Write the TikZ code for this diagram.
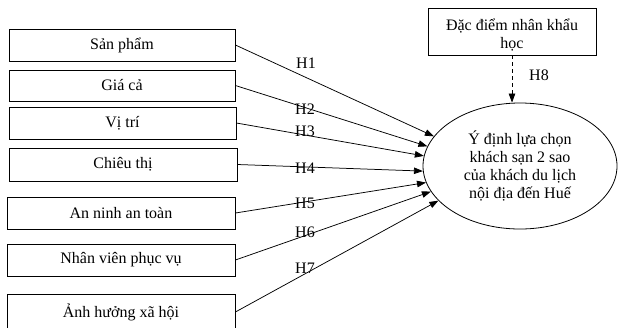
\documentclass[tikz,border=0pt]{standalone}
\usepackage{fontspec}
\setmainfont{Liberation Serif}
\usetikzlibrary{arrows.meta,shapes.geometric}
\begin{document}
\begin{tikzpicture}[x=1bp,y=-1bp,
  font=\fontsize{16bp}{18bp}\selectfont,
  box/.style={draw,line width=0.8bp,inner sep=0pt,align=center},
  arr/.style={line width=0.75bp,-{Triangle[length=9bp,width=6.5bp]}},
  hlab/.style={inner sep=0pt}]
\useasboundingbox (0,0) rectangle (619,327);
\clip (0,0) rectangle (619,327);
\node[box,minimum width=226bp,minimum height=32bp] (b1) at (122,45) {Sản phẩm};
\node[box,minimum width=226bp,minimum height=31bp] (b2) at (122,85.5) {Giá cả};
\node[box,minimum width=227bp,minimum height=32bp] (b3) at (122.5,123) {Vị trí};
\node[box,minimum width=228bp,minimum height=33bp] (b4) at (123,164.5) {Chiêu thị};
\node[box,minimum width=228bp,minimum height=32bp] (b5) at (121,213) {An ninh an toàn};
\node[box,minimum width=228bp,minimum height=32bp] (b6) at (121,260) {Nhân viên phục vụ};
\node[box,minimum width=228bp,minimum height=36bp] (b7) at (121,312) {Ảnh hưởng xã hội};
\node[box,minimum width=168bp,minimum height=47bp] (demo) at (512,31.5) {};
\node[align=center,inner sep=0pt] (demotext) at (512,35) {Đặc điểm nhân khẩu\\học};
\node[draw,ellipse,line width=0.8bp,minimum width=194bp,minimum height=126bp,inner sep=0pt,align=center] (ell) at (520,166) {Ý định lựa chọn\\khách sạn 2 sao\\của khách du lịch\\nội địa đến Huế};
\draw[arr] (b1.east) -- (ell.161);
\draw[arr] (b2.east) -- (ell.168);
\draw[arr] (b3.east) -- (ell.174.5);
\draw[arr] (b4.east) -- (ell.183.5);
\draw[arr] (b5.east) -- (ell.190);
\draw[arr] (b6.east) -- (ell.196);
\draw[arr] (b7.east) -- (ell.203);
\draw[arr,dash pattern=on 4bp off 3bp] (demo.south) -- (demo.south |- ell.north);
\node[hlab] (h1) at (306,63) {H1};
\node[hlab] (h2) at (305,109) {H2};
\node[hlab] (h3) at (305,131) {H3};
\node[hlab] (h4) at (305,168) {H4};
\node[hlab] (h5) at (305,203) {H5};
\node[hlab] (h6) at (305,232) {H6};
\node[hlab] (h7) at (305,268) {H7};
\node[hlab] (h8) at (539,75) {H8};
\end{tikzpicture}
\end{document}
